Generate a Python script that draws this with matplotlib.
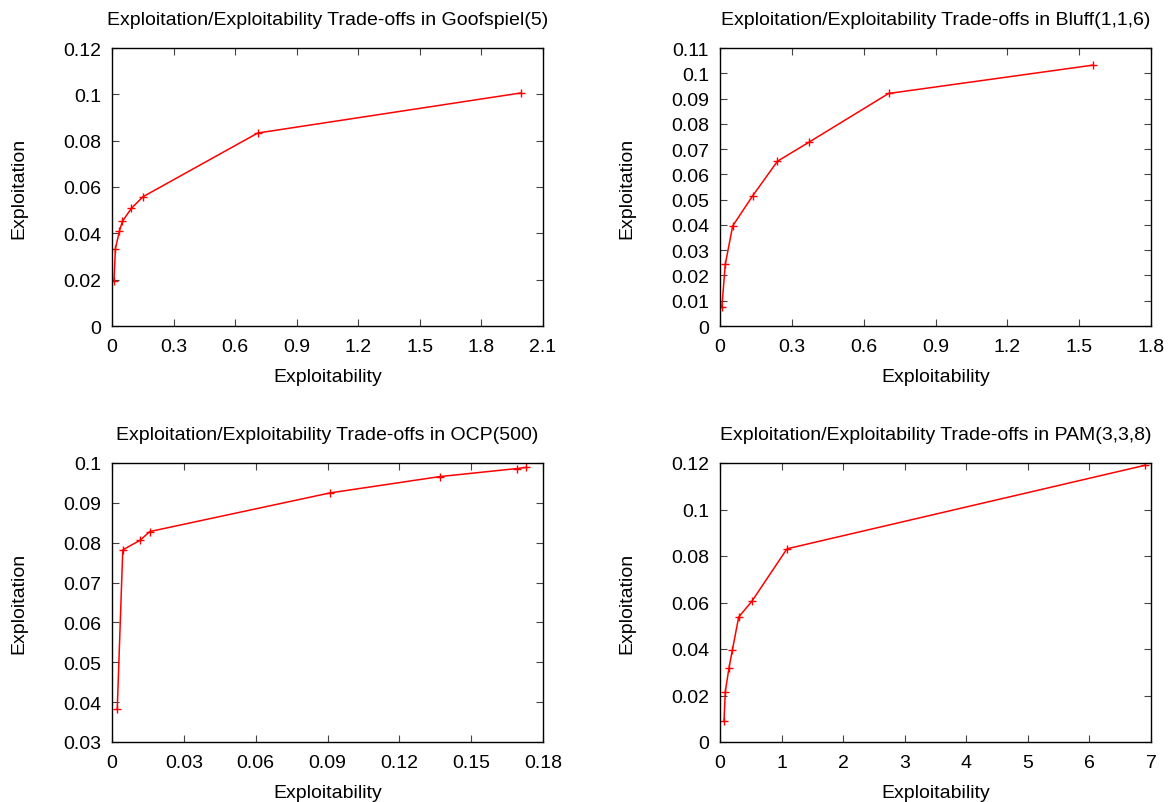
import matplotlib
matplotlib.use("Agg")
import matplotlib.pyplot as plt
import numpy as np

plt.rcParams['font.family'] = ['Liberation Sans', 'DejaVu Sans']

# Goofspiel(5)
goof_x = [0.0097, 0.0166, 0.036, 0.0507, 0.0945, 0.151, 0.710, 1.993]
goof_y = [0.0196, 0.0334, 0.0409, 0.0452, 0.0508, 0.0558, 0.0833, 0.1006]
# Bluff(1,1,6)
bluff_x = [0.008, 0.022, 0.053, 0.137, 0.240, 0.371, 0.704, 1.556]
bluff_y = [0.0077, 0.0244, 0.0396, 0.0516, 0.0652, 0.0727, 0.092, 0.1032]
# OCP(500)
ocp_x = [0.0022, 0.0045, 0.0117, 0.0158, 0.0911, 0.137, 0.169, 0.173]
ocp_y = [0.0384, 0.0782, 0.0806, 0.0828, 0.0925, 0.0966, 0.0986, 0.0989]
# PAM(3,3,8)
pam_x = [0.065, 0.086, 0.146, 0.20, 0.303, 0.519, 1.088, 6.9]
pam_y = [0.009, 0.0217, 0.0319, 0.0394, 0.0537, 0.0606, 0.0831, 0.1190]

titles = ["Goofspiel(5)", "Bluff(1,1,6)", "OCP(500)", "PAM(3,3,8)"]
xticks_list = [np.arange(0, 2.11, 0.3), np.arange(0, 1.81, 0.3),
               np.arange(0, 0.181, 0.03), np.arange(0, 7.01, 1)]
yticks_list = [np.arange(0, 0.121, 0.02), np.arange(0, 0.111, 0.01),
               np.arange(0.03, 0.1001, 0.01), np.arange(0, 0.121, 0.02)]
xlims = [(0, 2.1), (0, 1.8), (0, 0.18), (0, 7)]
ylims = [(0, 0.12), (0, 0.11), (0.03, 0.1), (0, 0.12)]
data = [(goof_x, goof_y), (bluff_x, bluff_y), (ocp_x, ocp_y), (pam_x, pam_y)]

W, H = 1168, 803
fig = plt.figure(figsize=(W / 100, H / 100), dpi=100)
boxes = [(112, 49, 543, 327), (720, 49, 1151, 327),
         (112, 464, 543, 743), (720, 464, 1151, 743)]


def fmt(v):
    return f"{round(v, 4):g}"


fs = 14
for i in range(4):
    l, t, r, b = boxes[i]
    ax = fig.add_axes([l / W, 1 - b / H, (r - l) / W, (b - t) / H])
    x, y = data[i]
    ax.plot(x, y, color='#ff0000', lw=1.1, marker='+', ms=6, mew=1.0)
    ax.set_xlim(*xlims[i])
    ax.set_ylim(*ylims[i])
    ax.set_xticks(xticks_list[i])
    ax.set_xticklabels([fmt(v) for v in xticks_list[i]], fontsize=fs)
    ax.set_yticks(yticks_list[i])
    ax.set_yticklabels([fmt(v) for v in yticks_list[i]], fontsize=fs)
    ax.tick_params(direction='in', top=True, right=True, length=5, width=0.8,
                   color='#444444')
    ax.tick_params(axis='y', pad=8)
    ax.tick_params(axis='x', pad=9)
    for sp in ax.spines.values():
        sp.set_linewidth(1.0)
    hpx = b - t
    ax.text(0.5, 1 + 28.5 / hpx,
            "Exploitation/Exploitability Trade-offs in " + titles[i],
            transform=ax.transAxes, ha='center', va='center', fontsize=fs)
    ax.set_xlabel("Exploitability", fontsize=fs)
    ax.set_ylabel("Exploitation", fontsize=fs)
    ax.xaxis.set_label_coords(0.5, -51 / hpx)
    ax.xaxis.label.set_va('center')
    ax.yaxis.set_label_coords(-93 / (r - l), 0.5)
    ax.yaxis.label.set_va('center')
    ax.yaxis.label.set_ha('center')

fig.savefig("out.png", dpi=100)
